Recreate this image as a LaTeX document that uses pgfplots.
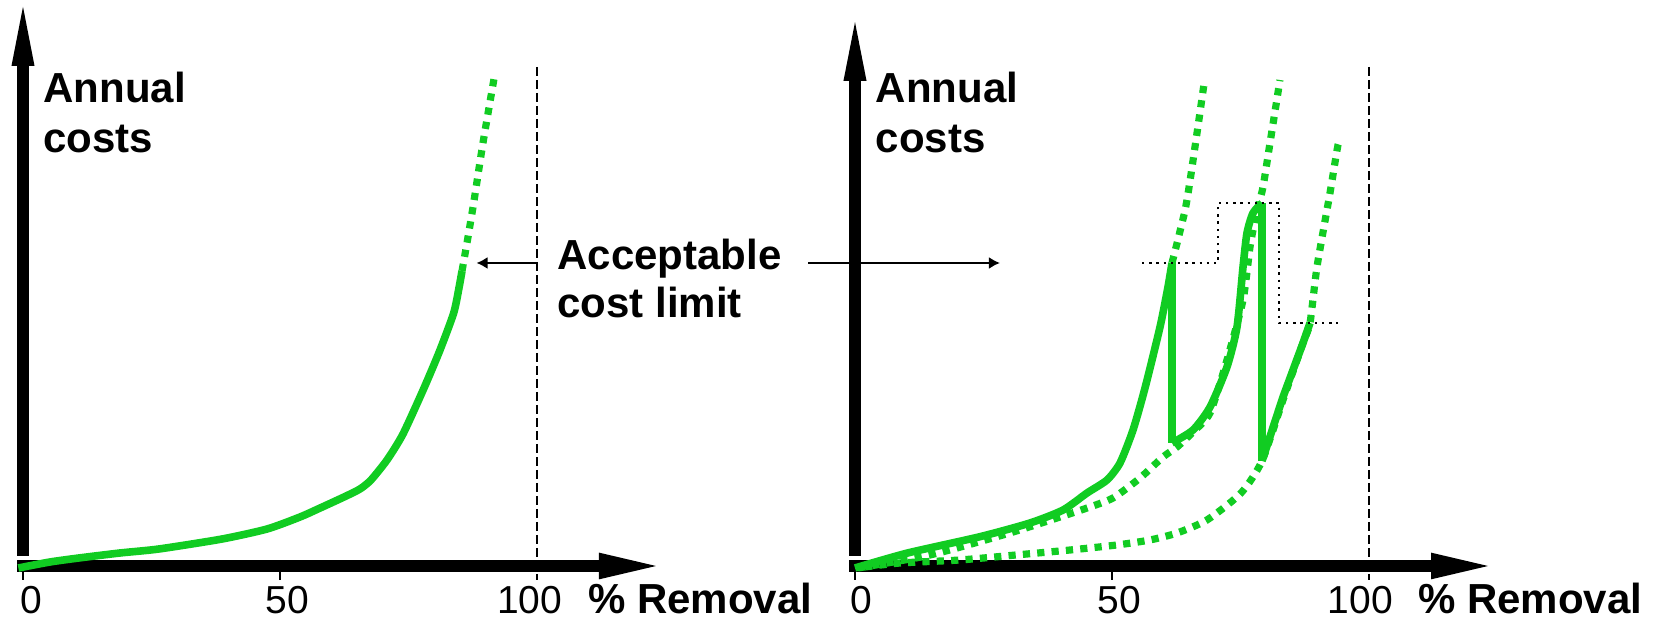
\documentclass[border=0pt]{standalone}
\usepackage{fontspec}
\setmainfont{Liberation Sans}
\usepackage{pgfplots}
\pgfplotsset{compat=1.18}
\usetikzlibrary{arrows.meta}
\definecolor{cgreen}{RGB}{17,204,34}
\pgfplotsset{panel/.style={x=2.57pt,y=2.57pt,xmin=-5,xmax=130,ymin=-12,ymax=110,
  axis lines=none,clip=false,anchor=origin}}
\tikzset{
  solidg/.style={cgreen,line width=3.8pt,line join=round},
  dotg/.style={cgreen,line width=3.6pt,dash pattern=on 3.6pt off 3.6pt},
  bigfont/.style={font=\bfseries\fontsize{21}{24}\selectfont,inner sep=0pt},
  tickfont/.style={font=\fontsize{19.5}{22}\selectfont,inner sep=0pt}
}
\newcommand{\axisarrows}[2]{%
  \fill (-1.17,1.95) rectangle (1.17,#1);
  \fill (-2.24,#1) -- (0,#2) -- (2.24,#1) -- cycle;
  \fill (-1.17,-1.17) rectangle (112.06,1.17);
  \fill (112.06,-2.6) -- (123.15,0) -- (112.06,2.6) -- cycle;
  \draw[line width=1pt] (0,-1.17) -- (0,-2.72);
  \draw[line width=1pt] (50,-1.17) -- (50,-2.72);
  \draw[line width=1pt,dash pattern=on 4.5pt off 2pt] (100,97.1) -- (100,-2.72);
}
\begin{document}
\begin{tikzpicture}[x=1pt,y=1pt]
\useasboundingbox (0,0) rectangle (831,310);
% ---------------- left panel
\begin{axis}[panel,at={(11.5pt,27pt)}]
\axisarrows{97.3}{108.8}
\addplot[solidg,smooth,tension=0.4] coordinates {(-0.9,-0.39) (5.25,0.78) (10.89,1.56) (18.87,2.53) (26.46,3.31) (38.72,5.25) (47.5,7.2) (53.89,9.53) (57.39,11.09) (62.45,13.42) (65.56,14.98) (67.70,16.73) (70.82,20.62) (73.93,25.68) (78.02,34.63) (81.13,42.02) (83.79,49.22) (84.82,54.09) (85.41,57.39)};
\addplot[dotg,smooth] coordinates {(85.41,57.39) (86.58,64.01) (87.74,71.01) (89.49,82.30) (91.63,94.75)};
\draw[line width=1pt,-{Latex[length=5.5pt,width=6pt]}] (100,58.95) -- (88.23,58.95);
\node[bigfont,anchor=base west] at (3.9,90.1) {Annual};
\node[bigfont,anchor=base west] at (3.9,80.4) {costs};
\node[bigfont,anchor=base west] at (103.9,57.59) {Acceptable};
\node[bigfont,anchor=base west] at (103.9,48.25) {cost limit};
\node[tickfont,anchor=base] at (1.56,-9.3) {0};
\node[tickfont,anchor=base] at (51.4,-9.3) {50};
\node[tickfont,anchor=base] at (98.6,-9.3) {100};
\node[bigfont,anchor=base west] at (109.9,-9.3) {\% Removal};
\end{axis}
% ---------------- right panel
\begin{axis}[panel,at={(427.5pt,27pt)}]
\axisarrows{94.4}{105.8}
\draw[line width=1pt,-{Latex[length=5.5pt,width=6pt]}] (-9.14,58.95) -- (28.2,58.95);
% dotted curves
\addplot[dotg,smooth,tension=0.4] coordinates {(0.58,-0.39) (12.84,1.75) (19.84,3.50) (30.74,6.61) (39.30,9.34) (45.14,11.28) (50.19,13.23) (55.45,17.12) (59.92,21.21) (62.65,23.15) (65.76,26.07) (69.07,29.77) (72.37,40.08) (75.49,51.75) (76.85,62.06) (77.82,67.32) (78.40,69.84) (79.38,73.74) (80.74,82.30) (82.68,94.55)};
\addplot[dotg,smooth,tension=0.4] coordinates {(1.95,-0.19) (8.75,0.58) (20.43,1.17) (31.32,2.14) (41.83,3.11) (50.97,4.09) (57.39,5.06) (62.65,6.42) (68.48,8.95) (75.10,14.20) (79.18,20.43) (83.27,32.30) (87.16,43.39) (88.52,47.28) (89.88,58.17) (92.41,72.57) (93.97,81.91) (94.55,82.68)};
\addplot[dotg,smooth] coordinates {(61.67,58.95) (63.2,65.0) (64.59,71.21) (66.54,84.24) (68.0,94.5)};
% solid path
\addplot[solidg,smooth,tension=0.4] coordinates {(0,-0.39) (10.12,2.5) (24.32,5.7) (34.05,8.37) (40.47,10.89) (45.14,14.20) (49.03,16.73) (51.56,20.04) (54.09,26.46) (56.42,34.63) (59.34,46.50) (60.89,54.28) (61.67,58.95)};
\addplot[solidg] coordinates {(61.67,58.95) (61.67,23.93)};
\addplot[solidg,smooth,tension=0.4] coordinates {(61.67,23.93) (65.76,26.46) (69.07,30.93) (72.37,38.72) (74.32,46.50) (75.49,58.17) (76.26,64.79) (77.43,68.68) (79.18,70.62)};
\addplot[solidg] coordinates {(79.18,70.62) (79.18,20.43)};
\addplot[solidg] coordinates {(79.18,20.43) (83.27,32.88) (87.16,43.39) (88.52,47.28)};
% cost limit steps
\addplot[black,line width=1.2pt,dash pattern=on 1.2pt off 2.4pt] coordinates {(55.84,58.95) (70.62,58.95) (70.62,70.62) (82.49,70.62) (82.49,47.28) (93.97,47.28)};
\node[bigfont,anchor=base west] at (4.0,90.1) {Annual};
\node[bigfont,anchor=base west] at (4.0,80.4) {costs};
\node[tickfont,anchor=base] at (1.3,-9.3) {0};
\node[tickfont,anchor=base] at (51.4,-9.3) {50};
\node[tickfont,anchor=base] at (98.3,-9.3) {100};
\node[bigfont,anchor=base west] at (109.5,-9.3) {\% Removal};
\end{axis}
\end{tikzpicture}
\end{document}
